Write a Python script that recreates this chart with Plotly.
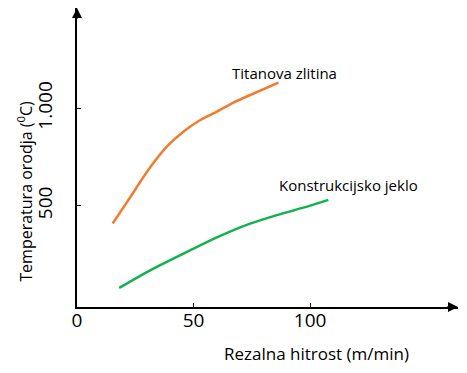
import plotly.graph_objects as go

# Data
titan_x = [15.3, 22.0, 31.4, 38.6, 45.7, 52.9, 60.0, 67.1, 74.3, 86.4]
titan_y = [409, 529, 697, 804, 881, 940, 983, 1029, 1068, 1131]
steel_x = [18.1, 31.4, 45.7, 60.0, 71.4, 85.7, 99.3, 107.8]
steel_y = [79, 169, 255, 338, 396, 452, 498, 530]

x_tickvals = [0, 50, 100]
x_ticktext = ["0", "50", "100"]
y_tickvals = [500, 1000]
y_ticktext = ["500", "1.000"]

series_names = ["Titanova zlitina", "Konstrukcijsko jeklo"]
x_title = "Rezalna hitrost (m/min)"
y_title = "Temperatura orodja (<sup>0</sup>C)"

FONT = "Open Sans"

fig = go.Figure()
fig.add_trace(go.Scatter(x=titan_x, y=titan_y, mode="lines", name=series_names[0],
                         line=dict(color="#F07D2E", width=2.5, shape="spline",
                                   smoothing=0.8)))
fig.add_trace(go.Scatter(x=steel_x, y=steel_y, mode="lines", name=series_names[1],
                         line=dict(color="#12B24F", width=2.5, shape="spline",
                                   smoothing=0.8)))

fig.update_layout(
    width=467, height=373,
    margin=dict(l=77, r=9, t=8, b=66, autoexpand=False),
    paper_bgcolor="white", plot_bgcolor="white",
    showlegend=False,
    font=dict(family=FONT, color="black"),
)
fig.update_xaxes(range=[0, 163.4], showgrid=False, zeroline=False, automargin=False,
                 showline=True, linecolor="black", linewidth=2,
                 ticks="inside", ticklen=4, tickcolor="black", tickwidth=1,
                 tickvals=x_tickvals, ticktext=x_ticktext,
                 ticklabelstandoff=-5,
                 tickfont=dict(family=FONT, size=19, color="black"))
fig.update_yaxes(range=[-19, 1514], showgrid=False, zeroline=False, automargin=False,
                 showline=True, linecolor="black", linewidth=2,
                 ticks="inside", ticklen=4, tickcolor="black", tickwidth=1,
                 tickvals=y_tickvals, ticktext=y_ticktext, tickangle=-90,
                 ticklabelstandoff=15,
                 tickfont=dict(family=FONT, size=19, color="black"))

# axis arrowheads
fig.add_annotation(xref="paper", yref="paper", x=1, y=0, ax=-12, ay=0,
                   text="", showarrow=True, arrowhead=2, arrowsize=1,
                   arrowwidth=2, arrowcolor="black")
fig.add_annotation(xref="paper", yref="paper", x=0, y=1, ax=0, ay=12,
                   text="", showarrow=True, arrowhead=2, arrowsize=1,
                   arrowwidth=2, arrowcolor="black")

# curve labels
fig.add_annotation(x=89.1, y=1181, text=series_names[0], showarrow=False,
                   xanchor="center", yanchor="middle",
                   font=dict(family=FONT, size=15, color="black"))
fig.add_annotation(x=116.3, y=606, text=series_names[1], showarrow=False,
                   xanchor="center", yanchor="middle",
                   font=dict(family=FONT, size=15, color="black"))

# axis titles
fig.add_annotation(x=102.6, xref="x", y=0, yref="paper", yshift=-46,
                   xanchor="center", yanchor="middle",
                   text=x_title, showarrow=False,
                   font=dict(family=FONT, size=17, color="black"))
fig.add_annotation(x=0, xref="paper", xshift=-52, y=572, yref="y",
                   xanchor="center", yanchor="middle",
                   text=y_title, textangle=-90, showarrow=False,
                   font=dict(family=FONT, size=16, color="black"))

fig.write_html("out.html", config={"displayModeBar": False},
               post_script="document.body.style.margin='0';document.body.style.overflow='hidden';")
